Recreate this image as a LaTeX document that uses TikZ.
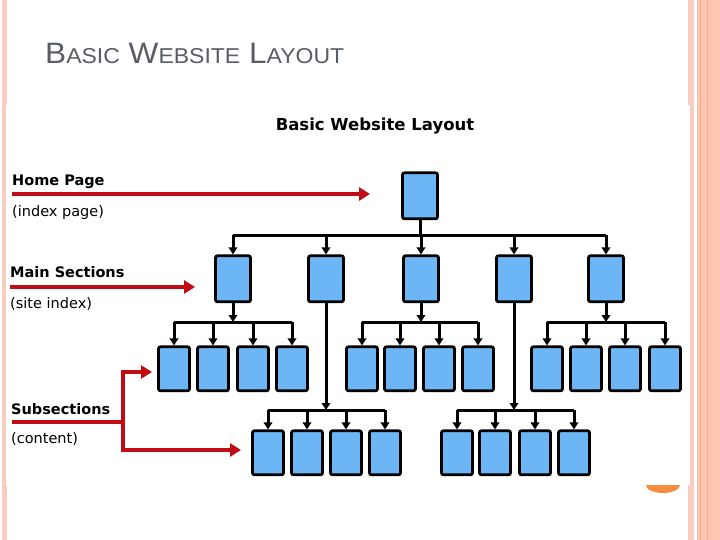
\documentclass[tikz,border=0pt]{standalone}
\usepackage{fontspec}
\setmainfont{DejaVu Sans}
\newfontfamily\slidefont[FakeStretch=1.07]{Liberation Sans}
\usetikzlibrary{arrows.meta}
\definecolor{boxblue}{RGB}{108,182,245}
\definecolor{redarr}{RGB}{192,12,20}
\definecolor{titlegray}{RGB}{88,92,100}
\definecolor{pinkA}{RGB}{248,206,194}
\definecolor{salmonA}{RGB}{252,198,176}
\definecolor{salmonB}{RGB}{244,170,140}
\definecolor{orangeA}{RGB}{246,140,60}
\tikzset{
  mainbox/.style={draw=black, line width=2.8pt, fill=boxblue, rounded corners=2pt,
    minimum width=35pt, minimum height=46pt, inner sep=0pt, anchor=north},
  subbox/.style={draw=black, line width=2.8pt, fill=boxblue, rounded corners=2pt,
    minimum width=31pt, minimum height=44pt, inner sep=0pt, anchor=north},
  conn/.style={draw=black, line width=3pt, -{Triangle[length=7pt,width=8.5pt]}},
  bus/.style={draw=black, line width=3pt},
  redarrow/.style={draw=redarr, line width=4pt, -{Triangle[length=11pt,width=13pt]}},
  redline/.style={draw=redarr, line width=4pt},
  lblb/.style={anchor=base west, inner sep=0pt, font=\fontsize{14.5}{16}\selectfont\bfseries},
  lbl/.style={anchor=base west, inner sep=0pt, font=\fontsize{14.5}{16}\selectfont},
}
\begin{document}
\begin{tikzpicture}[x=1pt,y=-1pt]
\useasboundingbox (0,0) rectangle (720,540);
\fill[white] (0,0) rectangle (720,540);
% slide frame
\fill[pinkA] (2,0) rectangle (7,540);
\fill[pinkA] (688,0) rectangle (694,540);
\fill[salmonA] (697,0) rectangle (720,540);
\draw[salmonB, line width=1pt] (700.5,0) -- (700.5,540);
\draw[salmonB, line width=1pt] (707,0) -- (707,540);
\fill[orangeA] (646,485) arc[start angle=180, end angle=0, x radius=17, y radius=8] -- cycle;
% embedded picture area
\fill[white] (6,105) rectangle (690,485);
% slide title
\node[anchor=base west, inner sep=0pt, text=titlegray] (stitle) at (45,64)
  {\slidefont\fontsize{29.5}{30}\selectfont B{\fontsize{21.5}{24}\selectfont ASIC} W{\fontsize{21.5}{24}\selectfont EBSITE} L{\fontsize{21.5}{24}\selectfont AYOUT}};
% diagram title
\node[anchor=base, inner sep=0pt, font=\fontsize{16.5}{18}\selectfont\bfseries] (dtitle) at (375,131) {Basic Website Layout};
% labels
\node[lblb] (hp) at (12,186) {Home Page};
\node[lbl] (hpi) at (12,216) {(index page)};
\node[lblb] (ms) at (10,277) {Main Sections};
\node[lbl] (msi) at (10,308) {(site index)};
\node[lblb] (ss) at (11,414) {Subsections};
\node[lbl] (ssi) at (11,443) {(content)};
% boxes
\node[mainbox] (home) at (420,171.4) {};
\foreach \i/\x in {1/233,2/326,3/421,4/514,5/606}{
  \node[mainbox] (m\i) at (\x,254.4) {};
}
\foreach \i/\x in {1/174,2/213,3/253,4/292}{ \node[subbox] (a\i) at (\x,345.4) {}; }
\foreach \i/\x in {1/362,2/400,3/439,4/478}{ \node[subbox] (c\i) at (\x,345.4) {}; }
\foreach \i/\x in {1/547,2/586,3/625,4/665}{ \node[subbox] (e\i) at (\x,345.4) {}; }
\foreach \i/\x in {1/268,2/307,3/346,4/385}{ \node[subbox] (b\i) at (\x,429.4) {}; }
\foreach \i/\x in {1/457,2/495,3/535,4/574}{ \node[subbox] (d\i) at (\x,429.4) {}; }
% bus coordinates
\coordinate (topbus) at (0,235);
\coordinate (bus1) at (0,322);
\coordinate (bus2) at (0,410);
% top level
\draw[bus] (home.south) -- (home.south |- topbus);
\draw[bus] (m1.north |- topbus) -- (m5.north |- topbus);
\foreach \i in {1,...,5}{ \draw[conn] (m\i.north |- topbus) -- (m\i.north); }
% main to sub
\draw[conn] (m1.south) -- (m1.south |- bus1);
\draw[conn] (m3.south) -- (m3.south |- bus1);
\draw[conn] (m5.south) -- (m5.south |- bus1);
\draw[conn] (m2.south) -- (m2.south |- bus2);
\draw[conn] (m4.south) -- (m4.south |- bus2);
\draw[bus] (a1.north |- bus1) -- (a4.north |- bus1);
\draw[bus] (c1.north |- bus1) -- (c4.north |- bus1);
\draw[bus] (e1.north |- bus1) -- (e4.north |- bus1);
\draw[bus] (b1.north |- bus2) -- (b4.north |- bus2);
\draw[bus] (d1.north |- bus2) -- (d4.north |- bus2);
\foreach \g in {a,c,e}{ \foreach \i in {1,...,4}{ \draw[conn] (\g\i.north |- bus1) -- (\g\i.north); } }
\foreach \g in {b,d}{ \foreach \i in {1,...,4}{ \draw[conn] (\g\i.north |- bus2) -- (\g\i.north); } }
% red pointers
\coordinate (hpA) at (12,194); \coordinate (hpB) at (370,194);
\draw[redarrow] (hpA) -- (hpB);
\coordinate (msA) at (10,287); \coordinate (msB) at (195,287);
\draw[redarrow] (msA) -- (msB);
\coordinate (ssA) at (12,422); \coordinate (ssJ) at (123,422);
\coordinate (ssT) at (123,372); \coordinate (ssU) at (152,372);
\coordinate (ssL) at (123,450); \coordinate (ssV) at (241,450);
\draw[redline] (ssA) -- (ssJ);
\draw[redarrow] (ssJ) -- (ssT) -- (ssU);
\draw[redarrow] (ssJ) -- (ssL) -- (ssV);
\end{tikzpicture}
\end{document}
